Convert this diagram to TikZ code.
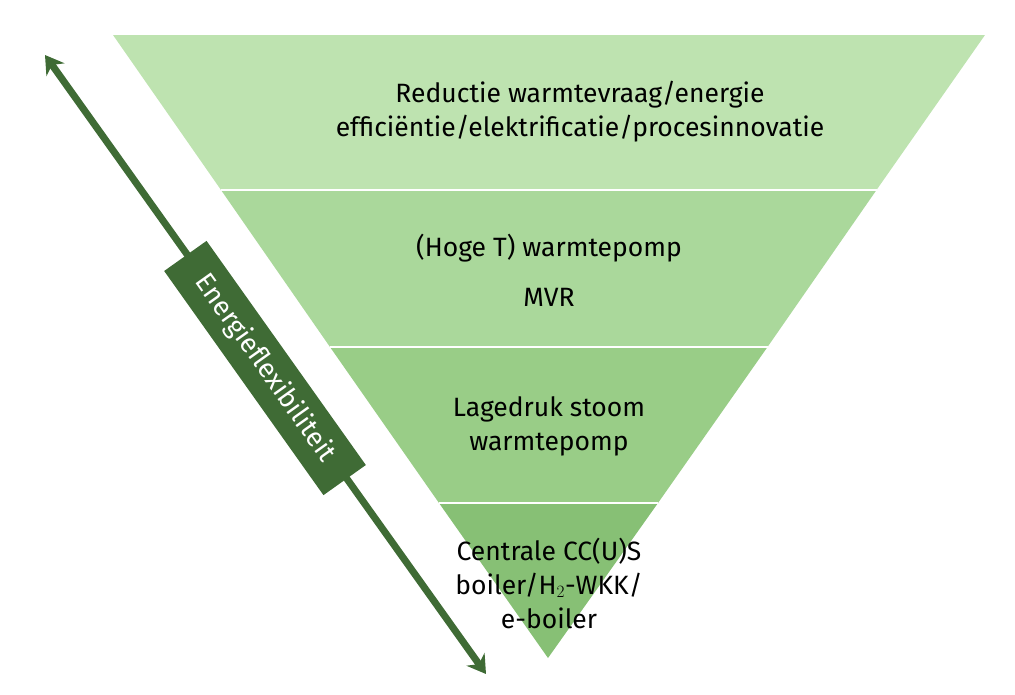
\documentclass[tikz,border=0pt]{standalone}
\usepackage{fontspec}
\setmainfont{Fira Sans}
\usetikzlibrary{arrows.meta}
\begin{document}
\begin{tikzpicture}[x=1pt,y=-1pt,
  lbl/.style={align=center,font=\fontsize{26.5}{34}\selectfont},
  arr/.style={draw=arrowgreen,line width=7pt,{Stealth[length=18pt,width=22pt]}-{Stealth[length=18pt,width=22pt]}}]
\definecolor{c1}{HTML}{BEE3B0}
\definecolor{c2}{HTML}{AAD89B}
\definecolor{c3}{HTML}{99CD87}
\definecolor{c4}{HTML}{87C075}
\definecolor{arrowgreen}{HTML}{3F6B35}
\useasboundingbox (0,0) rectangle (1015,694);
\fill[c1] (113,35) -- (985,35) -- (876.5,190) -- (221,190) -- cycle;
\fill[c2] (221,190) -- (876.5,190) -- (767.5,347) -- (330,347) -- cycle;
\fill[c3] (330,347) -- (767.5,347) -- (658,503) -- (439,503) -- cycle;
\fill[c4] (439,503) -- (658,503) -- (548,658) -- cycle;
\draw[white,line width=2pt] (221,190) -- (876.5,190) (330,347) -- (767.5,347) (439,503) -- (658,503);
\node[lbl] (t1) at (580,112) {Reductie warmtevraag/energie\\efficiëntie/elektrificatie/procesinnovatie};
\node[lbl,font=\fontsize{26.5}{50}\selectfont] (t2) at (549,270) {(Hoge T) warmtepomp\\MVR};
\node[lbl] (t3) at (549,426) {Lagedruk stoom\\warmtepomp};
\node[lbl] (t4) at (549,583) {Centrale CC(U)S\\boiler/H$_2$-WKK/\\e-boiler};
\coordinate (a1) at (45,55);
\coordinate (a2) at (486,674);
\draw[arr] (a1) -- (a2);
\node[fill=arrowgreen,text=white,minimum width=275pt,minimum height=52pt,rotate=-54.6,font=\fontsize{27}{30}\selectfont] (en) at (265,368) {Energieflexibiliteit};
\end{tikzpicture}
\end{document}
